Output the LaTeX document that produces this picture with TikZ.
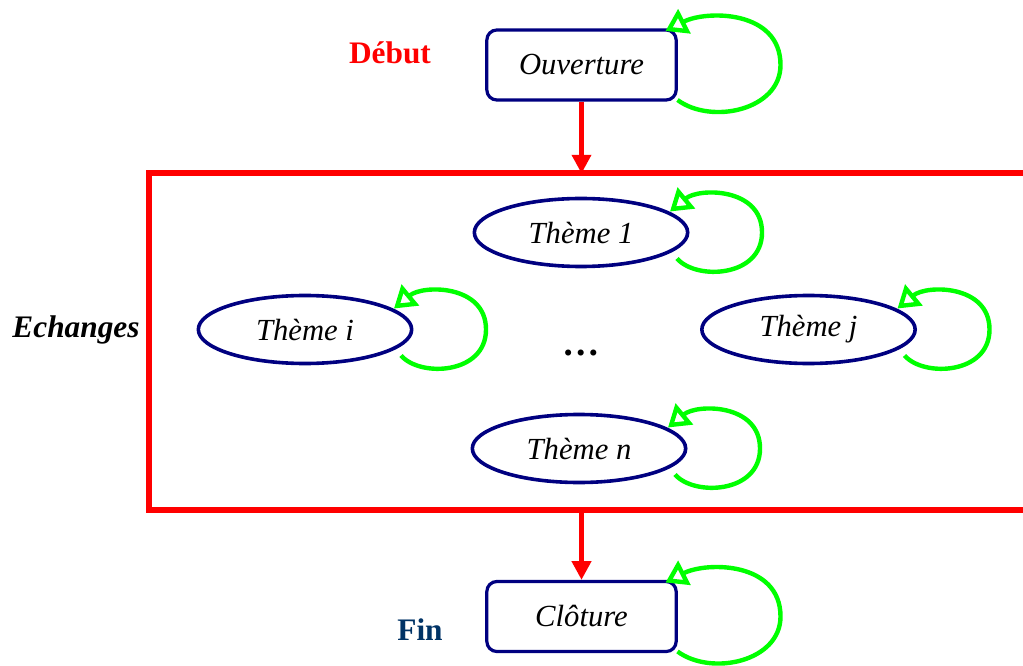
\documentclass[tikz,border=0pt]{standalone}
\usepackage{fontspec}
\setmainfont{Liberation Serif}
\usetikzlibrary{arrows.meta,shapes.geometric,calc}
\definecolor{navyc}{RGB}{0,0,128}
\definecolor{loopg}{RGB}{0,255,0}
\definecolor{redc}{RGB}{255,0,0}
\definecolor{finc}{RGB}{0,51,102}
\begin{document}
\begin{tikzpicture}[x=0.75pt,y=-0.75pt,
 stagebox/.style={draw=navyc,line width=2.4pt,rounded corners=7.5pt,minimum width=142pt,minimum height=52.5pt,inner sep=0pt,font=\fontsize{23}{27}\selectfont\itshape},
 theme/.style={ellipse,draw=navyc,line width=2.7pt,minimum width=160pt,minimum height=51pt,inner sep=0pt,font=\fontsize{23}{27}\selectfont\itshape},
 selfloop/.style={draw=loopg,line width=3.3pt,-{Triangle[open,length=16pt,width=20pt]}},
 flow/.style={draw=redc,line width=3.9pt,-{Triangle[length=14pt,width=14pt]}},
 phase/.style={font=\fontsize{23.5}{27}\selectfont\bfseries},
]
\useasboundingbox (0,0) rectangle (1023,666);
\node[draw=redc,line width=4.5pt,minimum width=668.25pt,minimum height=252pt,inner sep=0pt,outer sep=0pt] (zone) at (594.5,341.5) {};
\node[stagebox] (ouv) at (581.5,65) {Ouverture};
\node[stagebox] (clo) at (581.5,616.5) {Clôture};
\node[theme] (t1) at (581,232.5) {Thème 1};
\node[theme] (ti) at (305,329.5) {Thème i};
\node[theme] (tj) at (808.5,329.5) {Thème j};
\node[theme] (tn) at (579,448.5) {Thème n};
\node[phase,text=redc] (debut) at (390,53) {Début};
\node[phase,font=\fontsize{23.5}{27}\selectfont\bfseries\itshape] (ech) at (76,330) {Echanges};
\node[phase,text=finc] (fin) at (420,630) {Fin};
\node[font=\fontsize{28}{30}\selectfont\bfseries] (dots) at (581,353) {…};
\draw[flow] (ouv.south) -- (ouv.south |- zone.north);
\draw[flow] (clo.north |- zone.south) -- (clo.north);
\foreach \n in {ouv,clo}{
  \draw[selfloop,shift={(\n.center)}] (96,35) .. controls (130,60) and (199,45) .. (199,0) .. controls (199,-55) and (125,-55) .. (84,-34);
}
\foreach \n in {t1,ti,tj,tn}{
  \draw[selfloop,shift={(\n.center)}] (96,26) .. controls (115,48) and (181,45) .. (181,0) .. controls (181,-45) and (118,-45) .. (89,-21);
}
\end{tikzpicture}
\end{document}
